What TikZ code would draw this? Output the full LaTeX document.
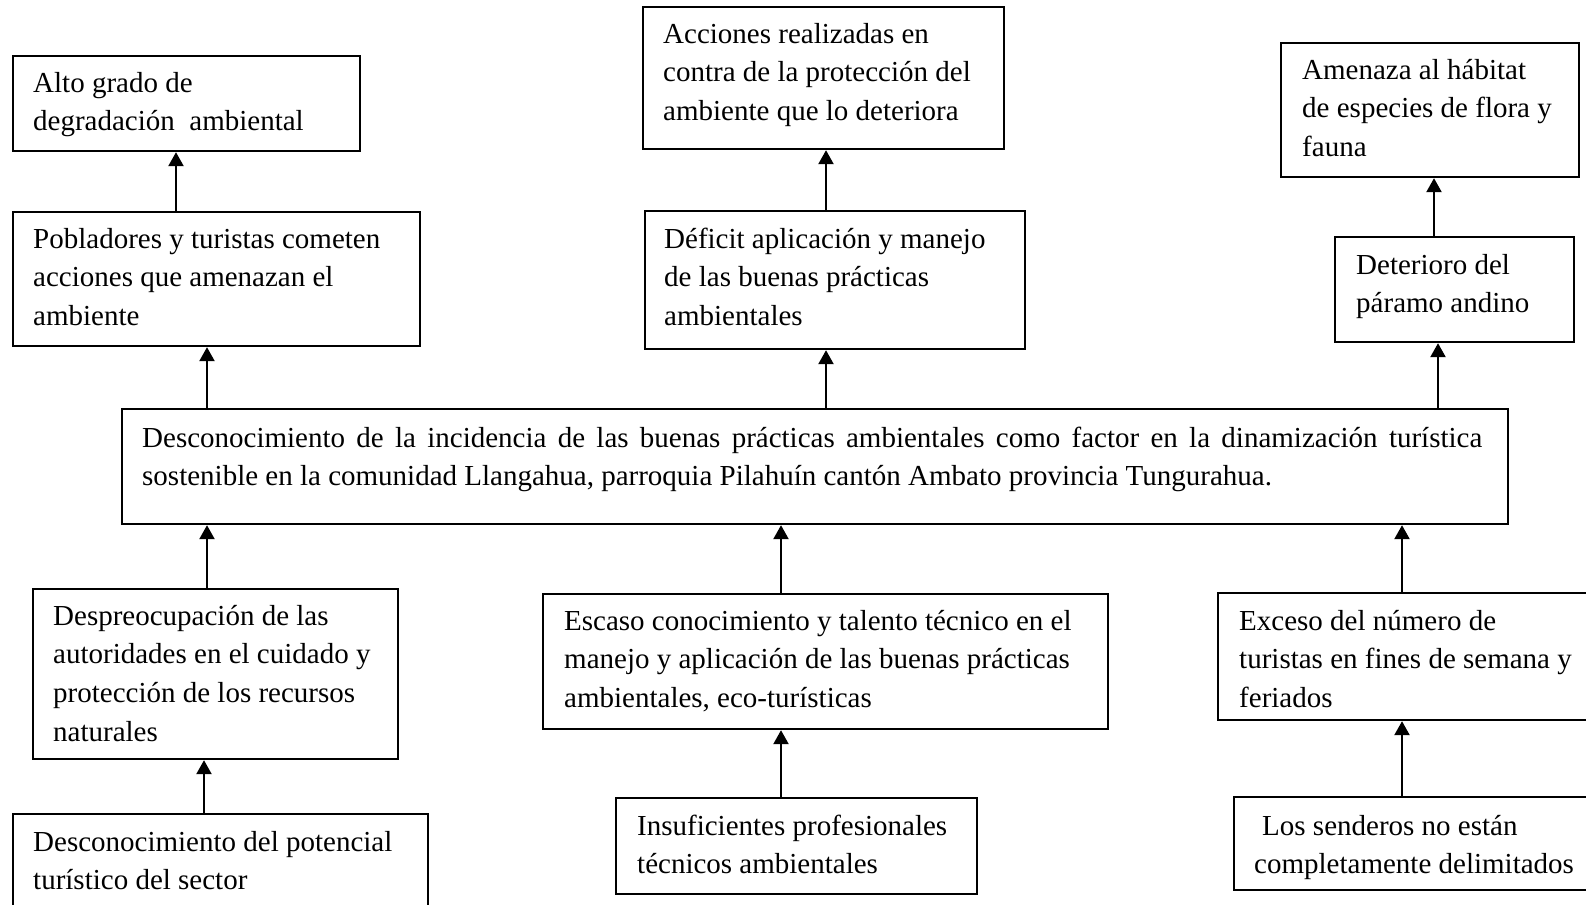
\documentclass[tikz,border=0pt]{standalone}
\usepackage{fontspec}
\setmainfont{Liberation Serif}
\usetikzlibrary{arrows.meta}
\begin{document}
\begin{tikzpicture}[x=1pt,y=-1pt,
  box/.style={draw=black,line width=2.2pt,rectangle,inner sep=0pt,anchor=north west},
  txt/.style={inner sep=0pt,anchor=north west,align=left,font=\fontsize{29}{38.7}\selectfont},
  arr/.style={line width=2.4pt,-{Triangle[width=15pt,length=14pt]}}]
\useasboundingbox (0,0) rectangle (1586,904);
\clip (0,0) rectangle (1586,904);
\fill[white] (0,0) rectangle (1586,904);
% boxes
\node[box,minimum width=347pt,minimum height=95pt] (alto) at (12,55) {};
\node[box,minimum width=361pt,minimum height=142pt] (acc) at (642,6) {};
\node[box,minimum width=298pt,minimum height=134pt] (ame) at (1280,42) {};
\node[box,minimum width=407pt,minimum height=134pt] (pob) at (12,211) {};
\node[box,minimum width=380pt,minimum height=138pt] (def) at (644,210) {};
\node[box,minimum width=239pt,minimum height=105pt] (det) at (1334,236) {};
\node[box,minimum width=1386pt,minimum height=115pt] (cen) at (121,408) {};
\node[box,minimum width=365pt,minimum height=170pt] (desp) at (32,588) {};
\node[box,minimum width=565pt,minimum height=135pt] (esc) at (542,593) {};
\node[box,minimum width=393pt,minimum height=127pt] (exc) at (1217,592) {};
\node[box,minimum width=415pt,minimum height=112pt] (desc) at (12,813) {};
\node[box,minimum width=361pt,minimum height=96pt] (ins) at (615,797) {};
\node[box,minimum width=377pt,minimum height=93pt] (sen) at (1233,796) {};
% texts (first baseline = y + 27.09)
\node[txt] (altoT) at (33,64.9) {\strut Alto grado de\\degradación\ \ ambiental};
\node[txt] (accT) at (663,15.9) {\strut Acciones realizadas en\\contra de la protección del\\ambiente que lo deteriora};
\node[txt] (ameT) at (1302,51.9) {\strut Amenaza al hábitat\\de especies de flora y\\fauna};
\node[txt] (pobT) at (33,220.9) {\strut Pobladores y turistas cometen\\acciones que amenazan el\\ambiente};
\node[txt] (defT) at (664,220.9) {\strut Déficit aplicación y manejo\\de las buenas prácticas\\ambientales};
\node[txt] (detT) at (1356,246.9) {\strut Deterioro del\\páramo andino};
\node[txt,text width=1340pt,align=justify] (cenT) at (142,419.9) {\strut Desconocimiento de la incidencia de las buenas prácticas ambientales como factor en la dinamización turística\linebreak sostenible en la comunidad Llangahua, parroquia Pilahuín cantón Ambato provincia Tungurahua.};
\node[txt] (despT) at (53,597.9) {\strut Despreocupación de las\\autoridades en el cuidado y\\protección de los recursos\\naturales};
\node[txt] (escT) at (564,602.9) {\strut Escaso conocimiento y talento técnico en el\\manejo y aplicación de las buenas prácticas\\ambientales, eco-turísticas};
\node[txt] (excT) at (1239,602.9) {\strut Exceso del número de\\turistas en fines de semana y\\feriados};
\node[txt] (descT) at (33,823.9) {\strut Desconocimiento del potencial\\turístico del sector};
\node[txt] (insT) at (637,807.9) {\strut Insuficientes profesionales\\técnicos ambientales};
\node[txt] (senT) at (1254,807.9) {\strut\hspace{8pt}Los senderos no están\\completamente delimitados};
% connectors
\draw[arr] (176,0 |- pob.north) -- (176,0 |- alto.south);
\draw[arr] (826,0 |- def.north) -- (826,0 |- acc.south);
\draw[arr] (1434,0 |- det.north) -- (1434,0 |- ame.south);
\draw[arr] (207,0 |- cen.north) -- (207,0 |- pob.south);
\draw[arr] (826,0 |- cen.north) -- (826,0 |- def.south);
\draw[arr] (1438,0 |- cen.north) -- (1438,0 |- det.south);
\draw[arr] (207,0 |- desp.north) -- (207,0 |- cen.south);
\draw[arr] (781,0 |- esc.north) -- (781,0 |- cen.south);
\draw[arr] (1402,0 |- exc.north) -- (1402,0 |- cen.south);
\draw[arr] (204,0 |- desc.north) -- (204,0 |- desp.south);
\draw[arr] (781,0 |- ins.north) -- (781,0 |- esc.south);
\draw[arr] (1402,0 |- sen.north) -- (1402,0 |- exc.south);
\end{tikzpicture}
\end{document}
